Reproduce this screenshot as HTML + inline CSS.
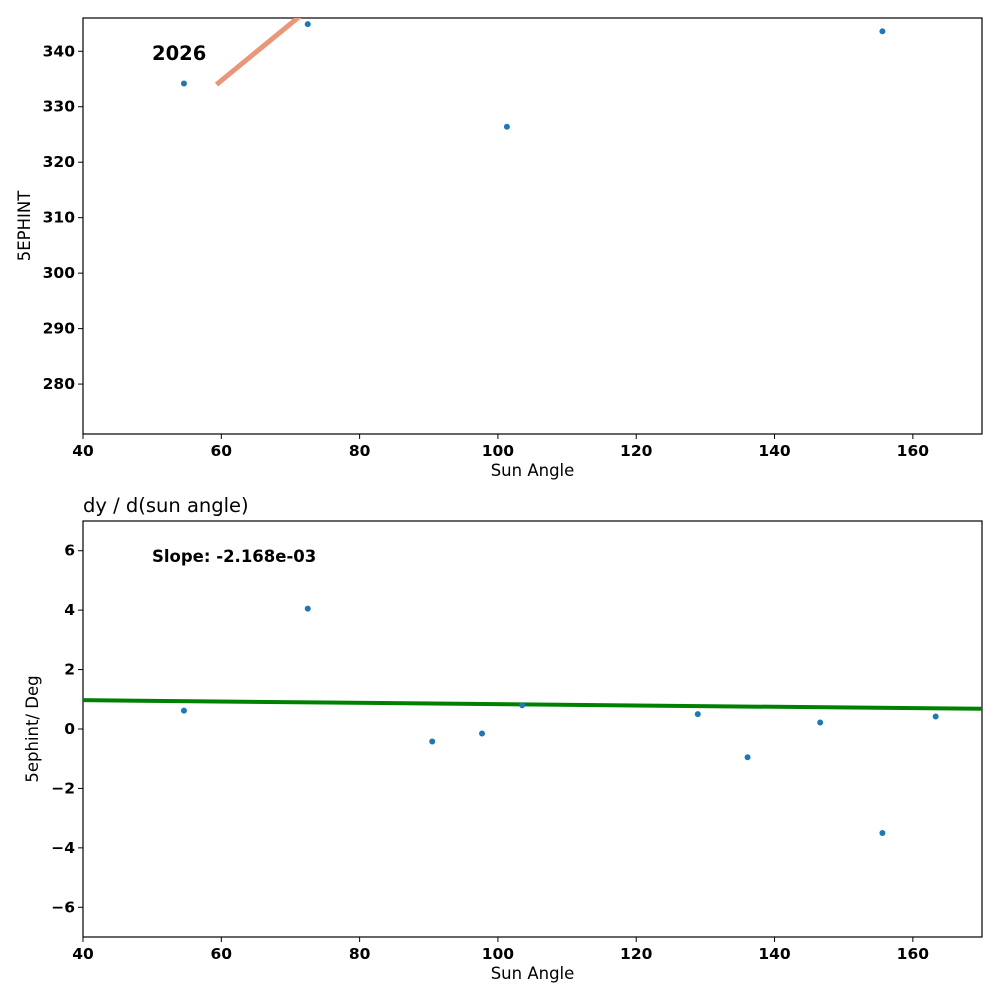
<!DOCTYPE html>
<html><head><meta charset="utf-8"><style>
html,body{margin:0;padding:0;background:#fff;}
svg{display:block;font-family:"DejaVu Sans","Liberation Sans",sans-serif;}
</style></head><body>
<svg id="chart" width="1000" height="1000" viewBox="0 0 1000 1000">
<defs>
<clipPath id="c1"><rect x="83" y="18" width="899" height="416"/></clipPath>
<clipPath id="c2"><rect x="83" y="521" width="899" height="416"/></clipPath>
</defs>
<g id="top"></g>
<g id="bot"></g>
</svg>
<script>
const xTicks=[40,60,80,100,120,140,160];
const topYTicks=[280,290,300,310,320,330,340];
const botYTicks=[-6,-4,-2,0,2,4,6];
const topX=[54.6,72.5,101.3,121.4,155.6];
const topY=[334.2,344.9,326.4,346.8,343.6];
const topLineX=[59.3,72.5];
const topLineY=[334.0,347.5];
const botX=[54.6,72.5,90.5,97.7,103.5,128.9,136.1,146.6,155.6,163.3];
const botY=[0.62,4.05,-0.42,-0.15,0.8,0.5,-0.95,0.22,-3.5,0.42];
const fitX=[40,170];
const fitY=[0.97,0.68];

const NS="http://www.w3.org/2000/svg";
function mk(parent,tag,attrs,text){const e=document.createElementNS(NS,tag);for(const k in attrs)e.setAttribute(k,attrs[k]);if(text!==undefined)e.textContent=text;parent.appendChild(e);return e;}
const L=83,R=982;
const sx=v=>L+(v-40)/(170-40)*(R-L);

function panel(g,top,bot,ymin,ymax,yTicks,yLabel,clip){
  const sy=v=>bot-(v-ymin)/(ymax-ymin)*(bot-top);
  const frame=mk(g,'rect',{x:L,y:top,width:R-L,height:bot-top,fill:'none',stroke:'#000','stroke-width':1.2});
  
  
  xTicks.forEach(t=>{
    const x=sx(t);
    mk(g,'line',{x1:x,x2:x,y1:bot,y2:bot+5,stroke:'#000'});
    const tx=mk(g,'text',{x:x,y:bot+22,'text-anchor':'middle','font-size':15.5,'font-weight':'bold'},String(t));
    
    
  });
  yTicks.forEach(t=>{
    const y=sy(t);
    mk(g,'line',{x1:L-5,x2:L,y1:y,y2:y,stroke:'#000'});
    const tx=mk(g,'text',{x:L-8,y:y+5,'text-anchor':'end','font-size':15.5,'font-weight':'bold'},String(t).replace('-','\u2212'));
    
    
  });
  const xl=mk(g,'text',{x:(L+R)/2,y:bot+42,'text-anchor':'middle','font-size':16.5},'Sun Angle');
  
  
  const cy=(top+bot)/2;
  const yl=mk(g,'text',{x:0,y:0,'text-anchor':'middle','font-size':16.5,transform:`translate(${yLabel[1]},${cy}) rotate(-90)`},yLabel[0]);
  
  
  const pg=mk(g,'g',{'clip-path':`url(#${clip})`});
  return {sy,pg};
}

const tg=document.getElementById('top');
const p1=panel(tg,18,434,271,346,topYTicks,['5EPHINT',30],'c1');
const ol=mk(p1.pg,'line',{x1:sx(topLineX[0]),y1:p1.sy(topLineY[0]),x2:sx(topLineX[1]),y2:p1.sy(topLineY[1]),stroke:'#e9967a','stroke-width':5});


topX.forEach((x,i)=>{
  const c=mk(p1.pg,'circle',{cx:sx(x),cy:p1.sy(topY[i]),r:3,fill:'#1f77b4'});
  
  
});
const yr=mk(tg,'text',{x:152,y:60,'font-size':19.5,'font-weight':'bold'},'2026');



const bg=document.getElementById('bot');
const p2=panel(bg,521,937,-7,7,botYTicks,['5ephint/ Deg',38],'c2');
const gl=mk(p2.pg,'line',{x1:sx(fitX[0]),y1:p2.sy(fitY[0]),x2:sx(fitX[1]),y2:p2.sy(fitY[1]),stroke:'#008000','stroke-width':4});


botX.forEach((x,i)=>{
  const c=mk(p2.pg,'circle',{cx:sx(x),cy:p2.sy(botY[i]),r:3,fill:'#1f77b4'});
  
  
});
const ti=mk(bg,'text',{x:83,y:512,'font-size':19.5},'dy / d(sun angle)');


const sl=mk(bg,'text',{x:152,y:562,'font-size':16.5,'font-weight':'bold'},'Slope: -2.168e-03');


</script>
</body></html>
